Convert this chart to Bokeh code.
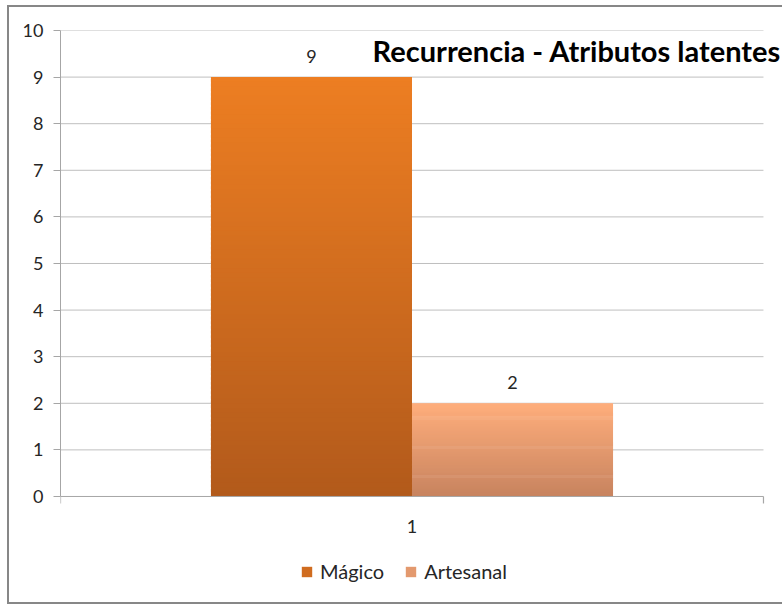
import numpy as np
from bokeh.plotting import figure
from bokeh.models import (ColumnDataSource, FixedTicker, Label, Legend, LegendItem,
                          Range1d)
from bokeh.embed import file_html
from bokeh.resources import INLINE

# ---- data ----
categories = ["1"]
series_names = ["Mágico", "Artesanal"]
series_values = [9, 2]
y_ticks = [0, 1, 2, 3, 4, 5, 6, 7, 8, 9, 10]
chart_title = "Recurrencia - Atributos latentes"

# ---- styles ----
top_colors = [(237, 126, 34), (255, 174, 124)]
bottom_colors = [(178, 90, 27), (199, 131, 95)]
bar_width = 0.286
offsets = [-0.143, 0.143]
FONT = "Lato"
TXT = "#262626"
AX = "#A6A6A6"
GRID = "#BFBFBF"

p = figure(width=775, height=599, output_backend="svg", toolbar_location=None,
           x_range=Range1d(-0.5, 0.5299), y_range=Range1d(-2.361, 10),
           x_axis_location=None,
           min_border_left=51, min_border_right=0, min_border_top=23,
           min_border_bottom=0)
p.styles = {"border-left": "2px solid #878787", "border-top": "2px solid #878787",
            "border-bottom": "2px solid #878787", "margin-left": "7px",
            "margin-top": "5px"}
p.outline_line_color = None
p.background_fill_color = "white"
p.border_fill_color = "white"

# y axis
p.yaxis.ticker = FixedTicker(ticks=y_ticks)
p.yaxis.bounds = (0, 10)
p.yaxis.axis_line_color = AX
p.yaxis.major_tick_line_color = AX
p.yaxis.major_tick_out = 7
p.yaxis.major_tick_in = 0
p.yaxis.minor_tick_line_color = None
p.yaxis.major_label_text_font = FONT
p.yaxis.major_label_text_font_size = "18px"
p.yaxis.major_label_text_color = TXT
p.yaxis.major_label_standoff = 10

p.xgrid.grid_line_color = None
p.ygrid.grid_line_color = None

# horizontal gridlines across the category area only
grid_y = [t for t in y_ticks if t != 0]
p.segment(x0=[-0.5] * len(grid_y), x1=[0.5] * len(grid_y), y0=grid_y, y1=grid_y,
          line_color=GRID, line_width=1)

# gradient bars built from strips
N = 90
items = []
for i, (name, v) in enumerate(zip(series_names, series_values)):
    edges = np.linspace(0, v, N + 1)
    bottoms = edges[:-1]
    tops = np.minimum(edges[1:] + v / N * 0.6, v)
    mids = (edges[:-1] + edges[1:]) / 2
    t = mids / v
    c1 = np.array(bottom_colors[i])
    c2 = np.array(top_colors[i])
    cols = ["#%02x%02x%02x" % tuple(int(round(x)) for x in (c1 + (c2 - c1) * tt)) for tt in t]
    xs = np.full(N, 0 + offsets[i])
    src = ColumnDataSource(dict(x=xs, top=tops, bottom=bottoms, color=cols))
    r = p.vbar(x="x", top="top", bottom="bottom", width=bar_width, source=src,
               fill_color="color", line_color=None)
    items.append(LegendItem(label=name, renderers=[r], index=N // 2))
    # value label
    p.add_layout(Label(x=0 + offsets[i], y=v, text=str(v), text_align="center",
                       text_baseline="bottom", y_offset=14, text_font=FONT,
                       text_font_size="18px", text_color=TXT))

# x axis drawn as baseline + category boundary ticks + category label
p.segment(x0=[-0.5], x1=[0.5], y0=[0], y1=[0], line_color=AX, line_width=1)
p.segment(x0=[-0.5, 0.5], y0=[0, 0], x1=[-0.5, 0.5], y1=[-0.15, -0.15],
          line_color=AX, line_width=1.2)
p.add_layout(Label(x=0, y=0, text=categories[0], text_align="center",
                   text_baseline="middle", y_offset=-30, text_font=FONT,
                   text_font_size="18px", text_color=TXT))

legend = Legend(items=items, orientation="horizontal", location=(240, 23),
                label_text_font=FONT, label_text_font_size="20px",
                label_text_color=TXT, glyph_width=13, glyph_height=13,
                label_standoff=7, spacing=20, border_line_color=None,
                background_fill_alpha=0, margin=0, padding=4)
p.add_layout(legend, "center")

p.add_layout(Label(x=-0.056, y=9.57, text=chart_title, text_align="left",
                   text_baseline="middle", text_font=FONT,
                   text_font_size="29px", text_font_style="bold",
                   text_color="#000000"))

open("out.html", "w").write(file_html(p, INLINE))
